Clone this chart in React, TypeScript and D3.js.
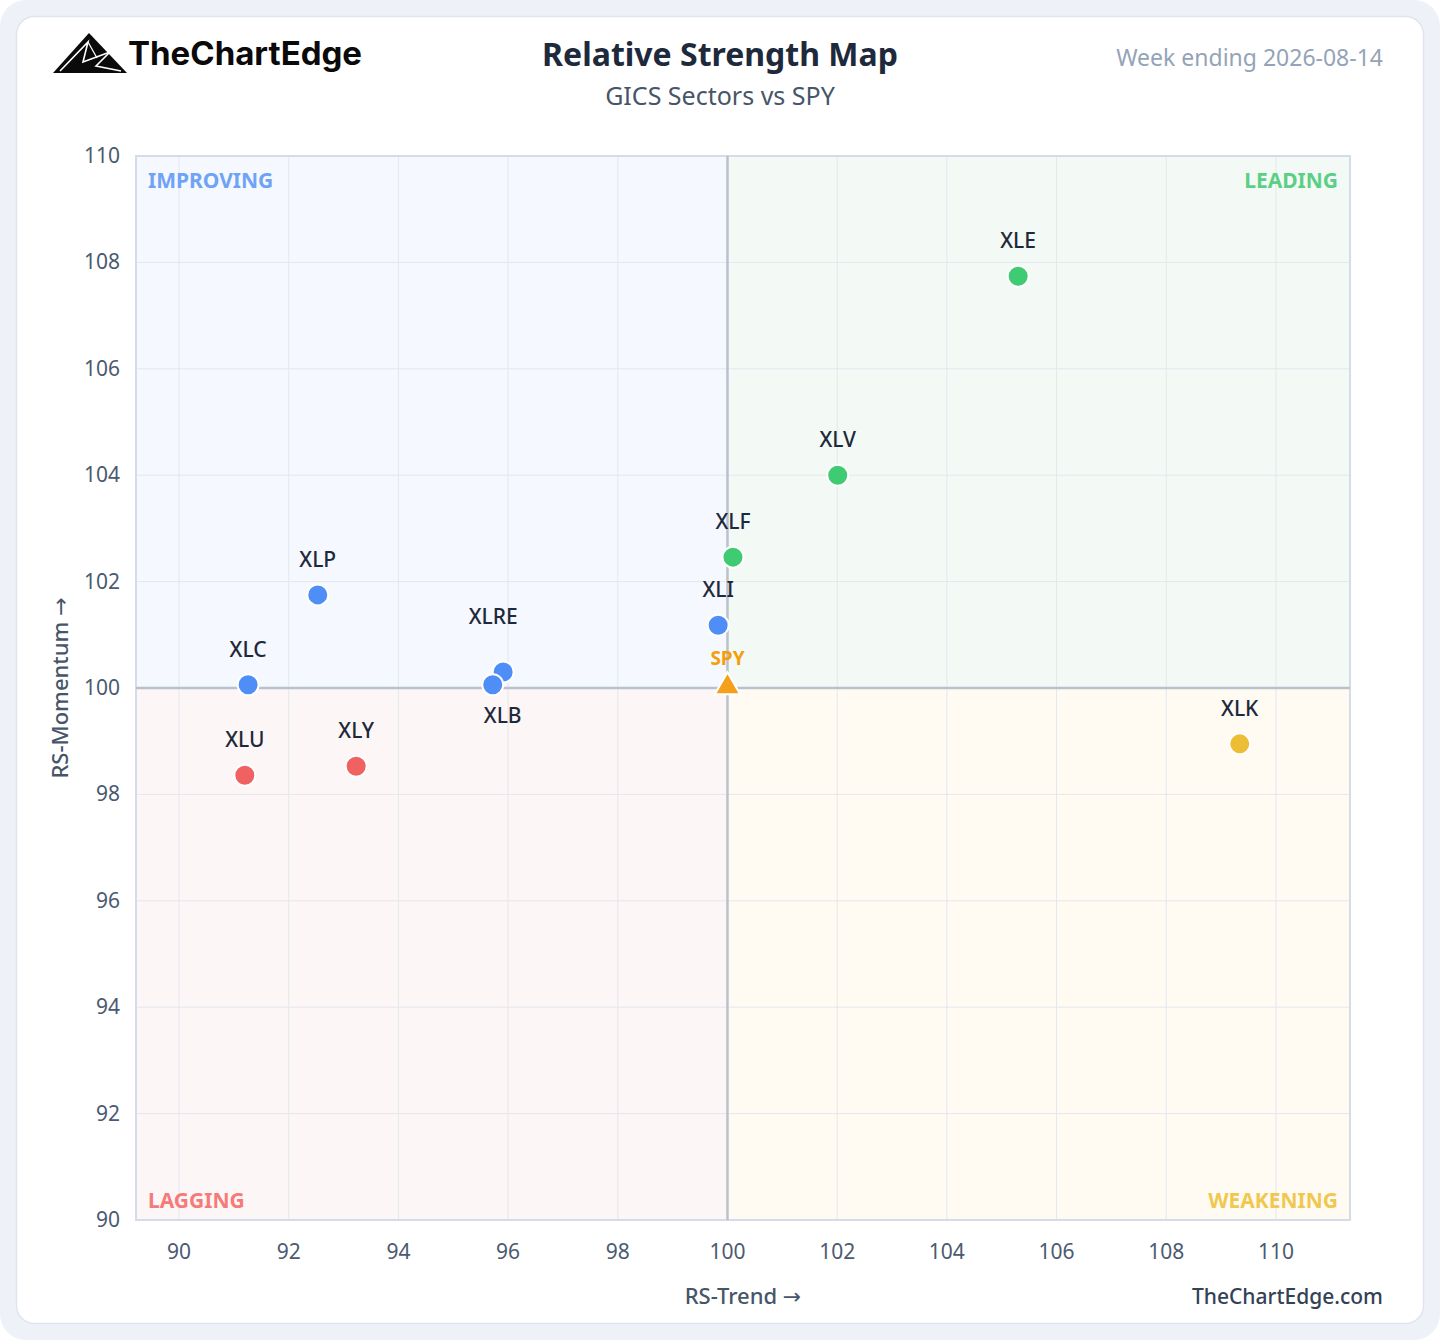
import React from "react";
import * as d3 from "d3";

const tickers = ["XLE", "XLV", "XLF", "XLI", "XLK", "XLP", "XLC", "XLRE", "XLB", "XLU", "XLY"];
const rsTrend = [105.3, 102.01, 100.1, 99.83, 109.34, 92.53, 91.26, 95.91, 95.72, 91.2, 93.23];
const rsMomentum = [107.74, 104.0, 102.46, 101.18, 98.95, 101.75, 100.06, 100.3, 100.06, 98.36, 98.53];
const labelDx = [0, 0, 0, 0, 0, 0, 0, -10, 10, 0, 0];
const labelBelow = ["XLB"];
const labelLifted = ["XLRE"];
const benchmark = { name: "SPY", x: 100, y: 100 };
const xTicks = [90, 92, 94, 96, 98, 100, 102, 104, 106, 108, 110];
const yTicks = [90, 92, 94, 96, 98, 100, 102, 104, 106, 108, 110];
const xDomain = [89.216, 111.35];
const yDomain = [90, 110];

const quadrantColors = {
  leading: "#3ecb72",
  improving: "#4f8ef7",
  lagging: "#f06262",
  weakening: "#ecbd35",
};

const FONT = "'Noto Sans', 'Open Sans', sans-serif";
const ARROW_FONT = "'DejaVu Sans', sans-serif";

export default function App() {
  const W = 1440, H = 1340;
  const left = 136, right = 1350, top = 156, bottom = 1220;
  const x = d3.scaleLinear().domain(xDomain).range([left, right]);
  const y = d3.scaleLinear().domain(yDomain).range([bottom, top]);
  const cx = x(benchmark.x), cy = y(benchmark.y);

  const quad = (px: number, py: number) => {
    if (px >= 100 && py >= 100) return "leading";
    if (px < 100 && py >= 100) return "improving";
    if (px < 100 && py < 100) return "lagging";
    return "weakening";
  };

  const tri = d3.symbol().type(d3.symbolTriangle).size(280)();

  return (
    <div style={{ position: "fixed", left: 0, top: 0, width: W, height: H }}>
      <svg width={W} height={H} style={{ display: "block" }} fontFamily={FONT}>
        <rect x={0} y={0} width={W} height={H} fill="#ffffff" />
        <rect x={0} y={0} width={W} height={H} rx={26} fill="#eef2f8" />
        <rect x={16.5} y={16.5} width={1407} height={1307} rx={18} fill="#ffffff" stroke="#dfe5ee" strokeWidth={1.5} />

        {/* logo */}
        <g>
          <path d="M53,73 L89,33 L127,73 Z" fill="#0a0a0a" />
          <path d="M60,71 L88,42 L83,62 L110,52 L96,66 L121,71" fill="none" stroke="#ffffff" strokeWidth={1.6} />
          <path d="M88,42 L97,58" fill="none" stroke="#ffffff" strokeWidth={1.2} />
          <text x={128} y={65} fontSize={32} fontWeight={700} fill="#0a0a0a" fontFamily="Inter, 'Noto Sans', sans-serif" textLength={234} lengthAdjust="spacingAndGlyphs">TheChartEdge</text>
        </g>

        <text x={720} y={66} textAnchor="middle" fontSize={32} fontWeight={700} fill="#1e293b">Relative Strength Map</text>
        <text x={720} y={105} textAnchor="middle" fontSize={25} fill="#475569">GICS Sectors vs SPY</text>
        <text x={1383} y={66} textAnchor="end" fontSize={23} fill="#94a3b8">Week ending 2026-08-14</text>

        {/* quadrants */}
        <rect x={left} y={top} width={cx - left} height={cy - top} fill="#f5f8fe" />
        <rect x={cx} y={top} width={right - cx} height={cy - top} fill="#f3faf5" />
        <rect x={left} y={cy} width={cx - left} height={bottom - cy} fill="#fdf6f6" />
        <rect x={cx} y={cy} width={right - cx} height={bottom - cy} fill="#fffbf2" />

        {/* grid */}
        {xTicks.map((t) => (
          <line key={"gx" + t} x1={x(t)} x2={x(t)} y1={top} y2={bottom} stroke="#e3e7ee" strokeWidth={1} />
        ))}
        {yTicks.map((t) => (
          <line key={"gy" + t} x1={left} x2={right} y1={y(t)} y2={y(t)} stroke="#e3e7ee" strokeWidth={1} />
        ))}
        <rect x={left} y={top} width={right - left} height={bottom - top} fill="none" stroke="#d5dce7" strokeWidth={2} />
        <line x1={cx} x2={cx} y1={top} y2={bottom} stroke="#b9c1cd" strokeWidth={2.5} />
        <line x1={left} x2={right} y1={cy} y2={cy} stroke="#b9c1cd" strokeWidth={2.5} />

        {/* quadrant labels */}
        <text x={left + 12} y={top + 32} fontSize={21} fontWeight={700} fill="#6fa3f6">IMPROVING</text>
        <text x={right - 12} y={top + 32} textAnchor="end" fontSize={21} fontWeight={700} fill="#5ccf86">LEADING</text>
        <text x={left + 12} y={bottom - 12} fontSize={21} fontWeight={700} fill="#f57b7b">LAGGING</text>
        <text x={right - 12} y={bottom - 12} textAnchor="end" fontSize={21} fontWeight={700} fill="#f0c850">WEAKENING</text>

        {/* ticks */}
        {xTicks.map((t) => (
          <text key={"tx" + t} x={x(t)} y={1259} textAnchor="middle" fontSize={21} fill="#4b5a70">{t}</text>
        ))}
        {yTicks.map((t) => (
          <text key={"ty" + t} x={120} y={y(t) + 7} textAnchor="end" fontSize={21} fill="#4b5a70">{t}</text>
        ))}

        <text x={743} y={1304} textAnchor="middle" fontSize={22} fontWeight={500} fill="#475569">RS-Trend <tspan fontFamily={ARROW_FONT}>→</tspan></text>
        <text transform={`translate(68,${(top + bottom) / 2}) rotate(-90)`} textAnchor="middle" fontSize={22} fontWeight={500} fill="#475569">RS-Momentum <tspan fontFamily={ARROW_FONT}>→</tspan></text>
        <text x={1383} y={1304} textAnchor="end" fontSize={21} fontWeight={500} fill="#334155">TheChartEdge.com</text>

        {/* points */}
        {tickers.map((tk, i) => {
          const px = x(rsTrend[i]), py = y(rsMomentum[i]);
          const c = quadrantColors[quad(rsTrend[i], rsMomentum[i])];
          const below = labelBelow.includes(tk);
          const lifted = labelLifted.includes(tk);
          const ly = below ? py + 38 : lifted ? py - 48 : py - 28;
          return (
            <g key={tk}>
              <circle cx={px} cy={py} r={10.5} fill={c} stroke="#ffffff" strokeWidth={2} />
              <text x={px + labelDx[i]} y={ly} textAnchor="middle" fontSize={21} fontWeight={500} fill="#1e293b">{tk}</text>
            </g>
          );
        })}

        {/* benchmark */}
        <path d={tri || ""} transform={`translate(${cx},${cy - 1})`} fill="#f5a01a" stroke="#ffffff" strokeWidth={2} />
        <text x={cx} y={cy - 23} textAnchor="middle" fontSize={19} fontWeight={700} fill="#f59e0b">{benchmark.name}</text>
      </svg>
    </div>
  );
}
